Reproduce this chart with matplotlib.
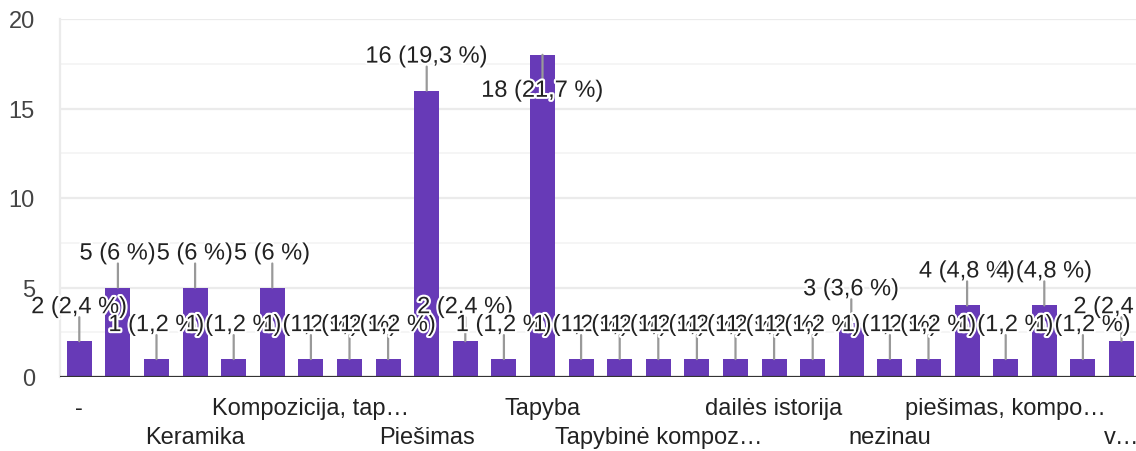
import matplotlib
matplotlib.use("Agg")
import matplotlib.pyplot as plt
import matplotlib.patheffects as pe
from matplotlib.ticker import MultipleLocator

# ---- data ----
categories = ["-", "", "", "Keramika", "", "", "Kompozicija, tap…", "", "",
              "Piešimas", "", "", "Tapyba", "", "", "Tapybinė kompoz…", "", "",
              "dailės istorija", "", "", "nezinau", "", "", "piešimas, kompo…",
              "", "", "v…"]
counts = [2, 5, 1, 5, 1, 5, 1, 1, 1, 16, 2, 1, 18, 1, 1, 1, 1, 1, 1, 1,
          3, 1, 1, 4, 1, 4, 1, 2]
y_ticks = [0, 5, 10, 15, 20]
row1_idx = [0, 6, 12, 18, 24]
row2_idx = [3, 9, 15, 21, 27]

plt.rcParams['font.family'] = ['Liberation Sans', 'DejaVu Sans']

W, H = 1136, 452
fig = plt.figure(figsize=(W / 100, H / 100), dpi=100)
step = 38.6
ax = fig.add_axes([60 / W, (H - 378) / H, (W - 60) / W, (378 - 20) / H])

x = list(range(len(counts)))
ax.bar(x, counts, width=0.65, color='#673ab7', zorder=2)
ax.set_xlim(-0.5, (W - 60) / step - 0.5)
ax.set_ylim(0, 20)

# grid
ax.set_yticks(y_ticks)
ax.yaxis.set_minor_locator(MultipleLocator(2.5))
ax.yaxis.grid(True, which='major', color='#ebebeb', lw=1.6, zorder=0)
ax.yaxis.grid(True, which='minor', color='#f5f5f5', lw=1.4, zorder=0)
ax.set_axisbelow(True)
ax.tick_params(axis='y', which='both', length=0, pad=18, labelsize=17,
               labelcolor='#444444')

# x labels in two rows
ax.set_xticks(row1_idx, [categories[i] for i in row1_idx])
ax.set_xticks(row2_idx, [categories[i] for i in row2_idx], minor=True)
ax.tick_params(axis='x', which='both', length=0, labelsize=17,
               labelcolor='#222222')
ax.tick_params(axis='x', which='major', pad=14.5)
ax.tick_params(axis='x', which='minor', pad=35.5)

for s in ['top', 'right', 'bottom']:
    ax.spines[s].set_visible(False)
ax.spines['left'].set_color('#ebebeb')
ax.spines['left'].set_linewidth(1.6)
ax.axhline(0, color='#333333', lw=2.3, zorder=3)

total = sum(counts)
px = 0.72  # points per pixel
for i, c in enumerate(counts):
    pct = round(c / total * 100, 1)
    s = f"{pct:.1f}".rstrip('0').rstrip('.').replace('.', ',')
    label = f"{c} ({s} %)"
    if c > 17:
        lead, toff = -24, -36
    else:
        lead, toff = 24, 34
    ax.annotate('', xy=(i, c), xytext=(0, lead * px), textcoords='offset points',
                arrowprops=dict(arrowstyle='-', color='#999999', lw=1.6,
                                shrinkA=0, shrinkB=0), zorder=3)
    ax.annotate(label, xy=(i, c), xytext=(0, toff * px), textcoords='offset points',
                ha='center', va='center', fontsize=17, color='#222222',
                zorder=5 + i,
                path_effects=[pe.withStroke(linewidth=3, foreground='white')])

fig.savefig('out.png', dpi=100)
